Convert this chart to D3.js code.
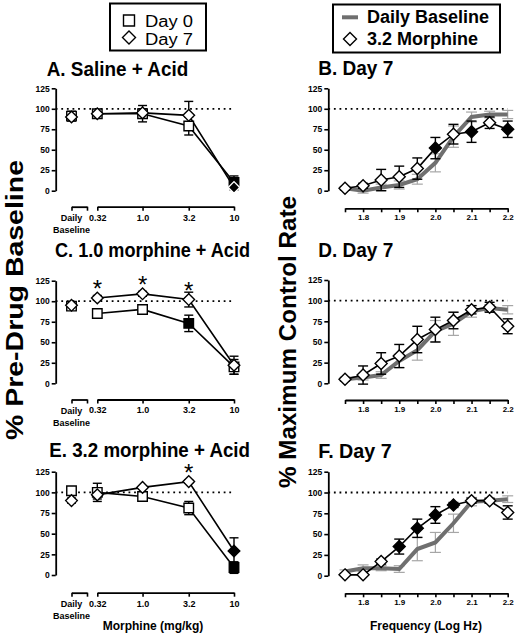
<!DOCTYPE html>
<html>
<head>
<meta charset="utf-8">
<script src="https://cdn.jsdelivr.net/npm/d3@7/dist/d3.min.js"></script>
<style>
  html, body { margin: 0; padding: 0; background: #fff; }
  svg { display: block; font-family: "Liberation Sans", Arial, sans-serif; }
</style>
</head>
<body>
<svg id="chart" width="516" height="635"></svg>
<script>
// ---------------- DATA ----------------
const doses = ["Baseline", 0.32, 1.0, 3.2, 10];
const doseTickLabels = ["0.32", "1.0", "3.2", "10"];
const freqs = [1.75, 1.8, 1.85, 1.9, 1.95, 2.0, 2.05, 2.1, 2.15, 2.2];
const freqTickLabels = [1.8, 1.9, 2.0, 2.1, 2.2];
const yTicks = [0, 25, 50, 75, 100, 125];

// Panel A: Saline + Acid
const A_day0 = [91, 94, 94, 79, 10];
const A_day0_err = [6, 4, 10, 11, 8];
const A_day0_fill = [0, 0, 0, 0, 1];
const A_day7 = [90, 94, 95, 92, 4];
const A_day7_err = [4, 3, 5, 17, 3];
const A_day7_fill = [0, 0, 0, 0, 2];
const A_stars = [];

// Panel C: 1.0 morphine + Acid
const C_day0 = [94, 85, 90, 73, 20];
const C_day0_err = [4, 5, 3, 10, 9];
const C_day0_fill = [0, 0, 0, 1, 0];
const C_day7 = [95, 104, 109, 102, 22];
const C_day7_err = [3, 3, 3, 9, 11];
const C_day7_fill = [0, 0, 0, 0, 0];
const C_stars = [0.32, 1.0, 3.2];

// Panel E: 3.2 morphine + Acid
const E_day0 = [102, 100, 95, 81, 9];
const E_day0_err = [3, 11, 4, 8, 7];
const E_day0_fill = [0, 0, 0, 0, 1];
const E_day7 = [90, 97, 106, 113, 29];
const E_day7_err = [3, 5, 2, 2, 16];
const E_day7_fill = [0, 0, 0, 0, 1];
const E_stars = [3.2];

// Panel B: Day 7
const B_base = [3, 0, 4, 7, 14, 34, 66, 90, 93, 93];
const B_base_err = [2, 3, 4, 5, 6, 11, 13, 6, 4, 5];
const B_mor = [3, 6, 13, 17, 27, 52, 69, 72, 83, 75];
const B_mor_err = [2, 3, 13, 13, 13, 13, 12, 13, 7, 10];
const B_mor_fill = [0, 0, 0, 0, 0, 1, 0, 1, 0, 1];

// Panel D: Day 7
const D_base = [5, 7, 10, 27, 40, 63, 72, 87, 91, 89];
const D_base_err = [2, 3, 4, 8, 12, 13, 14, 7, 4, 5];
const D_mor = [5, 10, 24, 33, 53, 65, 76, 89, 92, 69];
const D_mor_err = [2, 11, 13, 14, 16, 15, 10, 5, 6, 9];
const D_mor_fill = [0, 0, 0, 0, 0, 0, 0, 0, 0, 0];

// Panel F: Day 7
const F_base = [5, 9, 9, 8, 32, 40, 63, 89, 90, 92];
const F_base_err = [2, 4, 3, 4, 14, 12, 11, 5, 3, 4];
const F_mor = [1, 1, 17, 35, 57, 73, 85, 90, 90, 76];
const F_mor_err = [1, 1, 3, 9, 11, 10, 3, 3, 3, 8];
const F_mor_fill = [0, 0, 0, 1, 1, 1, 1, 0, 0, 0];

// ---------------- DRAWING ----------------
const svg = d3.select("#chart");
svg.append("rect").attr("width", 516).attr("height", 635).attr("fill", "#fff");

const GRAY_LINE = "#6f6f6f", GRAY_ERR = "#a6a6a6";

function diamondPath(r) { return `M0,${-r}L${r},0L0,${r}L${-r},0Z`; }
function squarePath(s) { const h = s / 2; return `M${-h},${-h}H${h}V${h}H${-h}Z`; }

function styleAxis(g, fs) {
  g.select(".domain").attr("stroke", "#000").attr("stroke-width", 1.8);
  g.selectAll(".tick line").attr("stroke", "#000").attr("stroke-width", 1.6);
  g.selectAll(".tick text").attr("fill", "#000").attr("font-size", fs).attr("font-weight", "bold")
    .attr("font-family", '"Liberation Sans", Arial, sans-serif');
}

function title(text, x, y, len) {
  svg.append("text").attr("x", x).attr("y", y).attr("font-size", 20).attr("font-weight", "bold")
    .attr("textLength", len).attr("lengthAdjust", "spacingAndGlyphs").text(text);
}

function errorBars(g, pts, color, width, capW) {
  const eb = g.append("g").attr("stroke", color).attr("stroke-width", width).attr("fill", "none");
  pts.forEach(p => {
    if (!p.e) return;
    eb.append("line").attr("x1", p.x).attr("x2", p.x).attr("y1", p.yl).attr("y2", p.yh);
    eb.append("line").attr("x1", p.x - capW / 2).attr("x2", p.x + capW / 2).attr("y1", p.yl).attr("y2", p.yl);
    eb.append("line").attr("x1", p.x - capW / 2).attr("x2", p.x + capW / 2).attr("y1", p.yh).attr("y2", p.yh);
  });
}

function markers(g, pts, shape) {
  g.selectAll(null).data(pts).enter().append("path")
    .attr("d", shape)
    .attr("transform", p => `translate(${p.x},${p.y})`)
    .attr("fill", p => p.f ? "#000" : "#fff")
    .attr("stroke", p => p.f === 2 ? "#fff" : "#000")
    .attr("stroke-width", 1.4);
}

// ----- left (dose) panels -----
function leftPanel(cfg) {
  const g = svg.append("g");
  const y = d3.scaleLinear().domain([0, 125]).range([cfg.bottom, cfg.top]);
  const xLog = d3.scaleLog().domain([0.32, 10]).range([97.3, 234]);
  const xBr = d3.scaleLinear().domain([0, 1]).range([71.5, 87]);
  const xPos = d => d === "Baseline" ? xBr(0) : xLog(d);

  const ya = g.append("g").attr("transform", "translate(55.7,0)")
    .call(d3.axisLeft(y).tickValues(yTicks).tickSize(4).tickSizeOuter(0).tickPadding(2));
  styleAxis(ya, 8.5);

  const xa = g.append("g").attr("transform", `translate(0,${cfg.axisY})`)
    .call(d3.axisBottom(xLog).tickValues(doses.slice(1)).tickSize(4).tickSizeOuter(0).tickPadding(3.5)
      .tickFormat((d, i) => doseTickLabels[i]));
  styleAxis(xa, 9);
  const xb = g.append("g").attr("transform", `translate(0,${cfg.axisY})`)
    .call(d3.axisBottom(xBr).tickValues([0, 1]).tickSize(4).tickSizeOuter(0).tickFormat(""));
  styleAxis(xb, 9);
  g.append("text").attr("x", xBr(0)).attr("y", cfg.axisY + 14).attr("text-anchor", "middle")
    .attr("font-size", 9).attr("font-weight", "bold").text("Daily");
  g.append("text").attr("x", xBr(0)).attr("y", cfg.axisY + 26).attr("text-anchor", "middle")
    .attr("font-size", 9).attr("font-weight", "bold").text("Baseline");

  g.append("line").attr("x1", 55.7).attr("x2", xLog(10)).attr("y1", y(100)).attr("y2", y(100))
    .attr("stroke", "#000").attr("stroke-width", 1.8).attr("stroke-dasharray", "1.8,3.8");

  const mk = (vals, errs, fills) => vals.map((v, i) => ({
    d: doses[i], x: xPos(doses[i]), y: y(v), yl: y(v - errs[i]), yh: y(v + errs[i]), e: errs[i], f: fills[i]
  }));
  const p0 = mk(cfg.d0, cfg.d0e, cfg.d0f);
  const p7 = mk(cfg.d7, cfg.d7e, cfg.d7f);

  const line = d3.line().x(p => p.x).y(p => p.y);
  [p0, p7].forEach(ps => {
    g.append("path").attr("d", line(ps.slice(1))).attr("fill", "none").attr("stroke", "#000").attr("stroke-width", 1.6);
  });
  errorBars(g, p0, "#000", 1.4, 9);
  errorBars(g, p7, "#000", 1.4, 9);
  markers(g, p0, () => squarePath(9.5));
  markers(g, p7, () => diamondPath(5.8));

  cfg.stars.forEach(s => {
    const i = doses.indexOf(s);
    g.append("text").attr("x", xPos(s)).attr("y", y(cfg.d7[i]) - 0.5).attr("text-anchor", "middle")
      .attr("font-size", 24).attr("font-weight", "normal").text("*");
  });
}

// ----- right (frequency) panels -----
function rightPanel(cfg) {
  const g = svg.append("g");
  const y = d3.scaleLinear().domain([0, 125]).range([cfg.bottom, cfg.top]);
  const x = d3.scaleLinear().domain([1.75, 2.2]).range([345, 507.7]);

  const ya = g.append("g").attr("transform", "translate(328.3,0)")
    .call(d3.axisLeft(y).tickValues(yTicks).tickSize(4).tickSizeOuter(0).tickPadding(2));
  styleAxis(ya, 8.5);

  const xa = g.append("g").attr("transform", `translate(0,${cfg.axisY})`)
    .call(d3.axisBottom(x).tickValues(freqs).tickSize(4).tickSizeOuter(0).tickPadding(2.5)
      .tickFormat(d => freqTickLabels.some(t => Math.abs(t - d) < 1e-9) ? d3.format(".1f")(d) : ""));
  styleAxis(xa, 8);

  g.append("line").attr("x1", 328.3).attr("x2", x(2.2)).attr("y1", y(100)).attr("y2", y(100))
    .attr("stroke", "#000").attr("stroke-width", 1.8).attr("stroke-dasharray", "1.8,3.8");

  const pb = cfg.base.map((v, i) => ({ x: x(freqs[i]), y: y(v), yl: y(v - cfg.baseE[i]), yh: y(v + cfg.baseE[i]), e: cfg.baseE[i] }));
  const pm = cfg.mor.map((v, i) => ({ x: x(freqs[i]), y: y(v), yl: y(v - cfg.morE[i]), yh: y(v + cfg.morE[i]), e: cfg.morE[i], f: cfg.morF[i] }));
  const line = d3.line().x(p => p.x).y(p => p.y);

  errorBars(g, pb, GRAY_ERR, 1.2, 11);
  g.append("path").attr("d", line(pb)).attr("fill", "none").attr("stroke", GRAY_LINE).attr("stroke-width", 4);
  g.append("path").attr("d", line(pm)).attr("fill", "none").attr("stroke", "#000").attr("stroke-width", 1.6);
  errorBars(g, pm, "#000", 1.4, 10);
  markers(g, pm, () => diamondPath(6));
}

leftPanel({ top: 88.3, bottom: 190.7, axisY: 206.7, d0: A_day0, d0e: A_day0_err, d0f: A_day0_fill,
  d7: A_day7, d7e: A_day7_err, d7f: A_day7_fill, stars: A_stars });
leftPanel({ top: 280.7, bottom: 383.3, axisY: 399.5, d0: C_day0, d0e: C_day0_err, d0f: C_day0_fill,
  d7: C_day7, d7e: C_day7_err, d7f: C_day7_fill, stars: C_stars });
leftPanel({ top: 471.7, bottom: 575, axisY: 592.7, d0: E_day0, d0e: E_day0_err, d0f: E_day0_fill,
  d7: E_day7, d7e: E_day7_err, d7f: E_day7_fill, stars: E_stars });

rightPanel({ top: 88.3, bottom: 190.7, axisY: 208.3, base: B_base, baseE: B_base_err, mor: B_mor, morE: B_mor_err, morF: B_mor_fill });
rightPanel({ top: 280, bottom: 383.3, axisY: 400, base: D_base, baseE: D_base_err, mor: D_mor, morE: D_mor_err, morF: D_mor_fill });
rightPanel({ top: 471.7, bottom: 575.7, axisY: 593.3, base: F_base, baseE: F_base_err, mor: F_mor, morE: F_mor_err, morF: F_mor_fill });

// titles
title("A. Saline + Acid", 46.7, 75.7, 141.6);
title("C. 1.0 morphine + Acid", 55, 257, 195);
title("E. 3.2 morphine + Acid", 49.3, 456.7, 200.7);
title("B. Day 7", 318.3, 75, 75);
title("D. Day 7", 318.3, 257.3, 75);
title("F. Day 7", 318.3, 458.3, 73.4);

// axis titles
svg.append("text").attr("transform", "translate(23,300) rotate(-90)").attr("text-anchor", "middle")
  .attr("font-size", 23).attr("font-weight", "bold").attr("textLength", 280).attr("lengthAdjust", "spacingAndGlyphs")
  .text("% Pre-Drug Baseline");
svg.append("text").attr("transform", "translate(296,342) rotate(-90)").attr("text-anchor", "middle")
  .attr("font-size", 23).attr("font-weight", "bold").attr("textLength", 292).attr("lengthAdjust", "spacingAndGlyphs")
  .text("% Maximum Control Rate");
svg.append("text").attr("x", 153).attr("y", 630).attr("text-anchor", "middle")
  .attr("font-size", 12).attr("font-weight", "bold").text("Morphine (mg/kg)");
svg.append("text").attr("x", 426).attr("y", 630).attr("text-anchor", "middle")
  .attr("font-size", 12).attr("font-weight", "bold").text("Frequency (Log Hz)");

// legends
const lg1 = svg.append("g");
lg1.append("rect").attr("x", 110).attr("y", 3.5).attr("width", 96).attr("height", 47)
  .attr("fill", "#fff").attr("stroke", "#000").attr("stroke-width", 2);
lg1.append("path").attr("d", squarePath(11)).attr("transform", "translate(129,20.5)")
  .attr("fill", "#fff").attr("stroke", "#000").attr("stroke-width", 1.4);
lg1.append("path").attr("d", diamondPath(6.5)).attr("transform", "translate(129,37.5)")
  .attr("fill", "#fff").attr("stroke", "#000").attr("stroke-width", 1.4);
lg1.append("text").attr("x", 145).attr("y", 27).attr("font-size", 16).attr("textLength", 48)
  .attr("lengthAdjust", "spacingAndGlyphs").text("Day 0");
lg1.append("text").attr("x", 145).attr("y", 44.5).attr("font-size", 16).attr("textLength", 48)
  .attr("lengthAdjust", "spacingAndGlyphs").text("Day 7");

const lg2 = svg.append("g");
lg2.append("rect").attr("x", 333).attr("y", 4.5).attr("width", 167).attr("height", 48)
  .attr("fill", "#fff").attr("stroke", "#000").attr("stroke-width", 2);
lg2.append("line").attr("x1", 342).attr("x2", 358).attr("y1", 17.3).attr("y2", 17.3)
  .attr("stroke", GRAY_LINE).attr("stroke-width", 4);
lg2.append("path").attr("d", diamondPath(6.5)).attr("transform", "translate(350,39)")
  .attr("fill", "#fff").attr("stroke", "#000").attr("stroke-width", 1.4);
lg2.append("text").attr("x", 367).attr("y", 23.3).attr("font-size", 18).attr("font-weight", "bold").text("Daily Baseline");
lg2.append("text").attr("x", 367).attr("y", 44.5).attr("font-size", 18).attr("font-weight", "bold").text("3.2 Morphine");
</script>
</body>
</html>
